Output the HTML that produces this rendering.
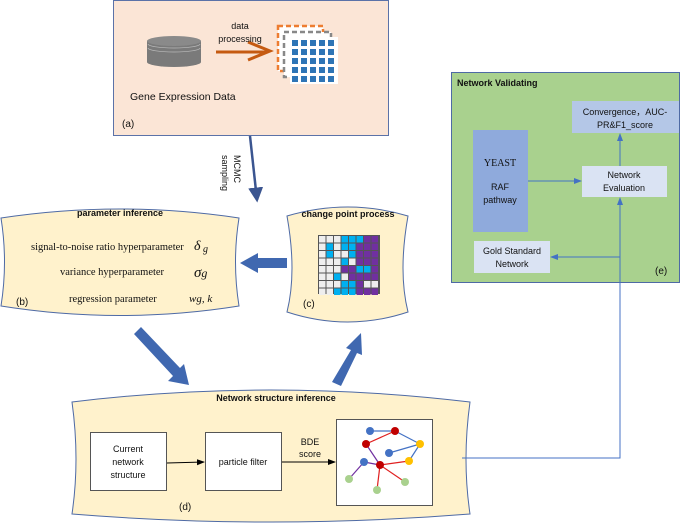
<!DOCTYPE html>
<html><head><meta charset="utf-8"><style>
body{margin:0;background:#fff}
text{font-family:"Liberation Sans",sans-serif;fill:#111}
.s{font-family:"Liberation Serif",serif}
</style></head><body>
<svg width="685" height="525" viewBox="0 0 685 525" xmlns="http://www.w3.org/2000/svg">
<defs>
<marker id="ah" markerWidth="8" markerHeight="8" refX="7" refY="4" orient="auto"><path d="M0,1 L8,4 L0,7 z" fill="#000"/></marker>
<marker id="bh" markerWidth="8" markerHeight="8" refX="7" refY="4" orient="auto"><path d="M0,1 L8,4 L0,7 z" fill="#4472c4"/></marker>
<marker id="dh" markerWidth="6" markerHeight="6" refX="5" refY="3" orient="auto"><path d="M0,0 L6,3 L0,6 z" fill="#3b5590"/></marker>
</defs>
<rect x="113.5" y="0.5" width="275" height="135" fill="#fbe5d6" stroke="#5b72a8"/>
<ellipse cx="174" cy="62" rx="27" ry="5" fill="#7a7a7a"/>
<rect x="147" y="41" width="54" height="21" fill="#7a7a7a"/>
<ellipse cx="174" cy="41" rx="27" ry="5" fill="#8a8a8a"/>
<path d="M148,44 a26,4 0 0 0 52,0 M148,48 a26,4 0 0 0 52,0" stroke="#bbb" fill="none" stroke-width="0.7"/>
<line x1="216" y1="52" x2="268" y2="52" stroke="#c55a11" stroke-width="3"/>
<path d="M248,42 L270,51 L248,60" stroke="#c55a11" stroke-width="3" fill="none"/>
<text x="240" y="29" font-size="9" text-anchor="middle">data</text>
<text x="240" y="42" font-size="9" text-anchor="middle">processing</text>
<rect x="278" y="26" width="45" height="45" fill="#fff" stroke="#ed7d31" stroke-width="2.5" stroke-dasharray="5,3"/>
<rect x="284" y="32" width="47" height="45" fill="#fff" stroke="#888" stroke-width="2.5" stroke-dasharray="5,3"/>
<rect x="290" y="37" width="48" height="47" fill="#fff"/>
<g fill="#2e75b6">
<rect x="292" y="40" width="6" height="6"/><rect x="301" y="40" width="6" height="6"/><rect x="310" y="40" width="6" height="6"/><rect x="319" y="40" width="6" height="6"/><rect x="328" y="40" width="6" height="6"/>
<rect x="292" y="49" width="6" height="6"/><rect x="301" y="49" width="6" height="6"/><rect x="310" y="49" width="6" height="6"/><rect x="319" y="49" width="6" height="6"/><rect x="328" y="49" width="6" height="6"/>
<rect x="292" y="58" width="6" height="6"/><rect x="301" y="58" width="6" height="6"/><rect x="310" y="58" width="6" height="6"/><rect x="319" y="58" width="6" height="6"/><rect x="328" y="58" width="6" height="6"/>
<rect x="292" y="67" width="6" height="6"/><rect x="301" y="67" width="6" height="6"/><rect x="310" y="67" width="6" height="6"/><rect x="319" y="67" width="6" height="6"/><rect x="328" y="67" width="6" height="6"/>
<rect x="292" y="76" width="6" height="6"/><rect x="301" y="76" width="6" height="6"/><rect x="310" y="76" width="6" height="6"/><rect x="319" y="76" width="6" height="6"/><rect x="328" y="76" width="6" height="6"/>
</g>
<text x="130" y="100" font-size="10.5">Gene Expression Data</text>
<text x="122" y="127" font-size="10">(a)</text>
<line x1="250" y1="136" x2="257" y2="200" stroke="#3b5590" stroke-width="2.5" marker-end="url(#dh)"/>
<text transform="translate(234,155) rotate(90)" font-size="9">MCMC</text>
<text transform="translate(222,155) rotate(90)" font-size="9">sampling</text>
<path d="M1,218 Q120,200 239,218 Q232,262 239,306 Q120,325 1,306 Q8,262 1,218 z" fill="#fff2cc" stroke="#4e6aa5"/>
<text x="120" y="216" font-size="9" font-weight="bold" text-anchor="middle">parameter inference</text>
<text class="s" x="31" y="250" font-size="10.5">signal-to-noise ratio hyperparameter</text>
<text class="s" x="194" y="250" font-size="14" font-style="italic">δ<tspan font-size="10" dy="2"> g</tspan></text>
<text class="s" x="60" y="275" font-size="10.5">variance hyperparameter</text>
<text class="s" x="194" y="277" font-size="15" font-style="italic">σ<tspan font-size="12">g</tspan></text>
<text class="s" x="69" y="302" font-size="10.5">regression parameter</text>
<text class="s" x="189" y="302" font-size="11" font-style="italic">wg, k</text>
<text x="16" y="305" font-size="10">(b)</text>
<path d="M287,216 Q348,198 408,216 Q398,272 408,312 Q348,332 287,312 Q297,272 287,216 z" fill="#fff2cc" stroke="#4e6aa5"/>
<text x="348" y="217" font-size="9" font-weight="bold" text-anchor="middle">change point process</text>
<rect x="318" y="235" width="62" height="59" fill="#555"/>
<g transform="translate(319,236)">
<g fill="#eee">
<rect x="0" y="0" width="6.5" height="6.5"/><rect x="7.5" y="0" width="6.5" height="6.5"/><rect x="15" y="0" width="6.5" height="6.5"/>
<rect x="0" y="7.5" width="6.5" height="6.5"/><rect x="15" y="7.5" width="6.5" height="6.5"/>
<rect x="0" y="15" width="6.5" height="6.5"/><rect x="15" y="15" width="6.5" height="6.5"/><rect x="22.5" y="15" width="6.5" height="6.5"/>
<rect x="0" y="22.5" width="6.5" height="6.5"/><rect x="7.5" y="22.5" width="6.5" height="6.5"/><rect x="15" y="22.5" width="6.5" height="6.5"/><rect x="30" y="22.5" width="6.5" height="6.5"/>
<rect x="0" y="30" width="6.5" height="6.5"/><rect x="7.5" y="30" width="6.5" height="6.5"/><rect x="15" y="30" width="6.5" height="6.5"/>
<rect x="0" y="37.5" width="6.5" height="6.5"/><rect x="7.5" y="37.5" width="6.5" height="6.5"/><rect x="22.5" y="37.5" width="6.5" height="6.5"/>
<rect x="0" y="45" width="6.5" height="6.5"/><rect x="7.5" y="45" width="6.5" height="6.5"/><rect x="15" y="45" width="6.5" height="6.5"/><rect x="45" y="45" width="6.5" height="6.5"/><rect x="52.5" y="45" width="6.5" height="6.5"/>
<rect x="0" y="52.5" width="6.5" height="6.5"/><rect x="7.5" y="52.5" width="6.5" height="6.5"/>
</g>
<g fill="#00b0f0">
<rect x="22.5" y="0" width="6.5" height="6.5"/><rect x="30" y="0" width="6.5" height="6.5"/><rect x="37.5" y="0" width="6.5" height="6.5"/>
<rect x="7.5" y="7.5" width="6.5" height="6.5"/><rect x="22.5" y="7.5" width="6.5" height="6.5"/><rect x="30" y="7.5" width="6.5" height="6.5"/>
<rect x="7.5" y="15" width="6.5" height="6.5"/><rect x="30" y="15" width="6.5" height="6.5"/>
<rect x="22.5" y="22.5" width="6.5" height="6.5"/>
<rect x="37.5" y="30" width="6.5" height="6.5"/><rect x="45" y="30" width="6.5" height="6.5"/>
<rect x="15" y="37.5" width="6.5" height="6.5"/>
<rect x="22.5" y="45" width="6.5" height="6.5"/><rect x="30" y="45" width="6.5" height="6.5"/>
<rect x="15" y="52.5" width="6.5" height="6.5"/><rect x="22.5" y="52.5" width="6.5" height="6.5"/><rect x="30" y="52.5" width="6.5" height="6.5"/>
</g>
<g fill="#7030a0">
<rect x="45" y="0" width="6.5" height="6.5"/><rect x="52.5" y="0" width="6.5" height="6.5"/>
<rect x="37.5" y="7.5" width="6.5" height="6.5"/><rect x="45" y="7.5" width="6.5" height="6.5"/><rect x="52.5" y="7.5" width="6.5" height="6.5"/>
<rect x="37.5" y="15" width="6.5" height="6.5"/><rect x="45" y="15" width="6.5" height="6.5"/><rect x="52.5" y="15" width="6.5" height="6.5"/>
<rect x="37.5" y="22.5" width="6.5" height="6.5"/><rect x="45" y="22.5" width="6.5" height="6.5"/><rect x="52.5" y="22.5" width="6.5" height="6.5"/>
<rect x="22.5" y="30" width="6.5" height="6.5"/><rect x="30" y="30" width="6.5" height="6.5"/><rect x="52.5" y="30" width="6.5" height="6.5"/>
<rect x="30" y="37.5" width="6.5" height="6.5"/><rect x="37.5" y="37.5" width="6.5" height="6.5"/><rect x="45" y="37.5" width="6.5" height="6.5"/><rect x="52.5" y="37.5" width="6.5" height="6.5"/>
<rect x="37.5" y="45" width="6.5" height="6.5"/>
<rect x="37.5" y="52.5" width="6.5" height="6.5"/><rect x="45" y="52.5" width="6.5" height="6.5"/><rect x="52.5" y="52.5" width="6.5" height="6.5"/>
</g>
</g>
<text x="303" y="307" font-size="10">(c)</text>
<polygon points="287,258 258,258 258,253 240,263 258,273 258,268 287,268" fill="#4068b0"/>
<polygon points="134,334 141,327 180,368 184,364 189,385 168,381 173,376" fill="#4068b0"/>
<polygon points="332,382 341,386 357,353 362,355 361,333 346,348 351,350" fill="#4068b0"/>
<path d="M72,402 Q270,378 470,402 Q462,460 470,514 Q270,530 72,514 Q80,460 72,402 z" fill="#fff2cc" stroke="#4e6aa5"/>
<text x="276" y="401" font-size="9" font-weight="bold" text-anchor="middle">Network structure inference</text>
<rect x="90.5" y="432.5" width="76" height="58" fill="#fff" stroke="#555"/>
<text x="128" y="452" font-size="9" text-anchor="middle">Current</text>
<text x="128" y="465" font-size="9" text-anchor="middle">network</text>
<text x="128" y="478" font-size="9" text-anchor="middle">structure</text>
<rect x="205.5" y="432.5" width="76" height="58" fill="#fff" stroke="#555"/>
<text x="243" y="465" font-size="9" text-anchor="middle">particle filter</text>
<line x1="167" y1="463" x2="204" y2="462" stroke="#000" marker-end="url(#ah)"/>
<line x1="282" y1="462" x2="335" y2="462" stroke="#000" marker-end="url(#ah)"/>
<text x="310" y="445" font-size="9" text-anchor="middle">BDE</text>
<text x="310" y="457" font-size="9" text-anchor="middle">score</text>
<text x="179" y="510" font-size="10">(d)</text>
<rect x="336.5" y="419.5" width="96" height="86" fill="#fff" stroke="#555"/>
<g stroke-width="1.2">
<line x1="370" y1="431" x2="395" y2="431" stroke="#4472c4"/>
<line x1="395" y1="431" x2="420" y2="444" stroke="#4472c4"/>
<line x1="366" y1="444" x2="395" y2="431" stroke="#e02020"/>
<line x1="389" y1="453" x2="420" y2="444" stroke="#4472c4"/>
<line x1="366" y1="444" x2="380" y2="465" stroke="#7030a0"/>
<line x1="380" y1="465" x2="409" y2="461" stroke="#e02020"/>
<line x1="409" y1="461" x2="420" y2="444" stroke="#4472c4"/>
<line x1="364" y1="462" x2="380" y2="465" stroke="#7030a0"/>
<line x1="364" y1="462" x2="349" y2="479" stroke="#7030a0"/>
<line x1="380" y1="465" x2="377" y2="490" stroke="#e02020"/>
<line x1="380" y1="465" x2="405" y2="482" stroke="#e02020"/>
</g>
<circle cx="370" cy="431" r="4" fill="#4472c4"/><circle cx="395" cy="431" r="4" fill="#c00000"/>
<circle cx="366" cy="444" r="4" fill="#c00000"/><circle cx="420" cy="444" r="4" fill="#ffc000"/>
<circle cx="389" cy="453" r="4" fill="#4472c4"/><circle cx="409" cy="461" r="4" fill="#ffc000"/>
<circle cx="364" cy="462" r="4" fill="#4472c4"/><circle cx="380" cy="465" r="4" fill="#c00000"/>
<circle cx="349" cy="479" r="4" fill="#a9d18e"/><circle cx="377" cy="490" r="4" fill="#a9d18e"/><circle cx="405" cy="482" r="4" fill="#a9d18e"/>
<rect x="451.5" y="72.5" width="228" height="210" fill="#a9d18e" stroke="#4e6aa5"/>
<text x="457" y="86" font-size="9" font-weight="bold">Network Validating</text>
<rect x="572" y="101" width="107" height="32" fill="#b4c7e7"/>
<text x="625" y="115" font-size="9" text-anchor="middle">Convergence，AUC-</text>
<text x="625" y="128" font-size="9" text-anchor="middle">PR&amp;F1_score</text>
<rect x="473" y="130" width="55" height="102" fill="#8faadc"/>
<text class="s" x="500" y="166" font-size="10" text-anchor="middle">YEAST</text>
<text x="500" y="190" font-size="9" text-anchor="middle">RAF</text>
<text x="500" y="203" font-size="9" text-anchor="middle">pathway</text>
<rect x="582" y="166" width="85" height="31" fill="#dae3f3"/>
<text x="624" y="178" font-size="9" text-anchor="middle">Network</text>
<text x="624" y="191" font-size="9" text-anchor="middle">Evaluation</text>
<rect x="474" y="241" width="76" height="32" fill="#dae3f3"/>
<text x="512" y="254" font-size="9" text-anchor="middle">Gold Standard</text>
<text x="512" y="267" font-size="9" text-anchor="middle">Network</text>
<text x="655" y="274" font-size="10">(e)</text>
<g stroke="#4472c4" stroke-width="1" fill="none">
<line x1="528" y1="181" x2="581" y2="181" marker-end="url(#bh)"/>
<line x1="620" y1="166" x2="620" y2="134" marker-end="url(#bh)"/>
<polyline points="462,458 620,458 620,198" marker-end="url(#bh)"/>
<line x1="620" y1="257" x2="551" y2="257" marker-end="url(#bh)"/>
</g>
</svg>
</body></html>
